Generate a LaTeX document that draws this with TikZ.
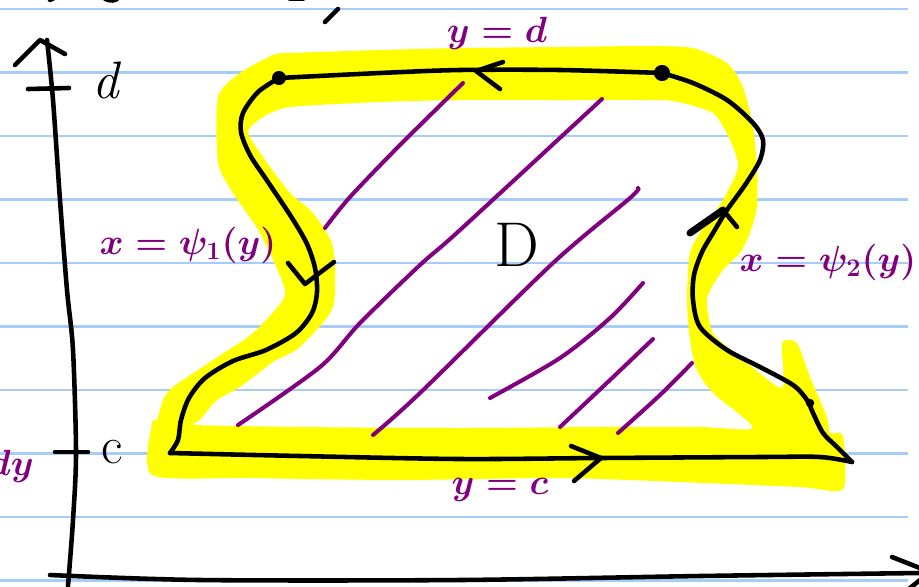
\documentclass[tikz,border=0pt]{standalone}
\usepackage{xcolor}
\usetikzlibrary{math}
\definecolor{myyellow}{RGB}{255,255,0}
\definecolor{mypurple}{RGB}{128,0,128}
\definecolor{myrule}{RGB}{166,204,247}

\tikzset{
  pen/.style={line width=2.6pt, line cap=round, line join=round},
  hatch/.style={color=mypurple, line width=2.3pt, line cap=round},
  lab/.style={color=mypurple, font=\fontsize{22}{26}\selectfont\boldmath},
  ink/.style={font=\fontsize{30}{34}\selectfont},
}

\begin{document}
\begin{tikzpicture}[x=0.02cm, y=-0.02cm]
\tikzmath{
\rulegap=63.5;
\rulestart=9;
}
\useasboundingbox (0,0) rectangle (919,586);
\clip (0,0) rectangle (919,586);
\fill[white] (0,0) rectangle (919,586);

%the ruled paper:
\foreach \n in {0,...,9}
  \draw[color=myrule, line width=1.2pt] (0,\rulestart+\n*\rulegap) -- (908,\rulestart+\n*\rulegap);

%the highlighter:
\fill[color=myyellow, even odd rule]
  plot[smooth cycle, tension=0.4] coordinates {(290,53) (380,50) (460,48) (560,47) (648,46) (693,48) (727,63) (743,87) (753,127) (757,170) (757,207) (750,233) (740,253) (723,270) (707,298) (713,333) (740,357) (782,388) (782,343) (797,343) (810,377) (827,417) (830,433) (843,436) (843,489) (800,487) (680,482) (560,478) (400,480) (250,478) (152,475) (152,423) (157,420) (163,400) (173,387) (213,360) (253,333) (283,300) (283,283) (260,233) (233,193) (218,163) (218,97) (240,73) (273,55)}
  plot[smooth cycle, tension=0.4] coordinates {(290,107) (380,102) (460,100) (560,100) (640,100) (673,101) (713,113) (730,140) (738,167) (723,200) (703,228) (690,253) (687,300) (690,340) (697,370) (713,393) (753,428) (700,427) (600,427) (460,428) (300,427) (197,425) (200,420) (217,400) (240,387) (273,362) (300,347) (333,307) (333,247) (313,213) (290,193) (263,157) (248,132) (263,117)};

%hatching of D:
\draw[hatch] plot[smooth] coordinates {(325,228) (350,197) (400,145) (463,83)};
\draw[hatch] plot[smooth] coordinates {(238,425) (320,367) (360,323) (420,265) (460,230) (602,99)};
\draw[hatch] plot[smooth] coordinates {(373,435) (420,393) (553,263) (630,198) (638,188)};
\draw[hatch] plot[smooth] coordinates {(490,398) (560,358) (610,318) (643,283)};
\draw[hatch] plot[smooth] coordinates {(560,427) (610,380) (653,339)};
\draw[hatch] plot[smooth] coordinates {(618,433) (660,395) (692,363)};

%axes:
\coordinate (ytop) at (47,40);
\coordinate (ybot) at (68,586);
\coordinate (xleft) at (50,575);
\coordinate (xright) at (919,573);
\draw[pen] plot[smooth] coordinates {(ybot) (73,520) (76,453) (73,350) (67,290) (60,200) (53,100) (ytop)};
\draw[pen] (15,65) -- (40,40) -- (65,54);
\draw[pen] plot[smooth] coordinates {(xleft) (200,580) (460,580) (700,576) (xright)};
\draw[pen] (892,557) -- (930,572) -- (900,596);
\draw[pen] (28,89) -- (69,88);
\draw[pen] (55,452) -- (88,452);
\node[ink, font=\fontsize{30}{34}\selectfont\itshape] (dtick) at (106,80) {d};
\node[ink] (ctick) at (112,452) {c};
\node[lab, anchor=east] (dylab) at (40,466) {$dy$};

%scraps of the line above:
\draw[pen] (338,9) -- (325,22);
\draw[pen] (50,0) -- (56,-3);
\draw[pen] (104,-2) .. controls (110,2) and (116,1) .. (119,-3);
\draw[pen] (290,-1) -- (303,-1);

%the boundary of D:
\coordinate (TL) at (279,78);
\coordinate (TR) at (662,73);
\coordinate (BL) at (170,453);
\coordinate (BR) at (852,462);
\draw[pen] plot[smooth, tension=0.5] coordinates {(TR) (560,70) (460,70) (380,73) (TL)};
\draw[pen] plot[smooth] coordinates {(TL) (258,92) (243,113) (241,132) (250,155) (268,182) (292,218) (307,244) (315,268) (317,292) (312,313) (296,333) (266,350) (233,361) (205,378) (189,398) (181,420) (178,440) (BL)};
\draw[pen] plot[smooth] coordinates {(BL) (300,456) (460,459) (600,458) (760,457) (820,457) (BR)};
\draw[pen] plot[smooth] coordinates {(BR) (837,447) (823,433) (813,413) (807,400) (793,385) (760,367) (727,350) (700,327) (693,300) (694,275) (702,252) (713,233) (727,210) (745,185) (760,160) (763,140) (753,123) (727,100) (693,83) (TR)};
\fill (TL) circle (4pt);
\fill (TR) circle (4.6pt);
\fill (810,403) circle (2.4pt);

%orientation:
\draw[pen] (503,62) -- (476,71) -- (500,89);
\draw[pen] (288,263) -- (305,284) -- (334,262);
\draw[pen] (571,446) -- (601,458) -- (574,481);
\draw[pen, line width=4pt] (690,233) -- (723,210);
\draw[pen] (723,210) -- (737,227);

%labels:
\node[ink, font=\fontsize{36}{40}\selectfont] (Dlab) at (517,245) {D};
\node[lab] (topl) at (497,33) {$y=d$};
\node[lab] (botl) at (500,490) {$y=c$};
\node[lab] (psione) at (188,245) {$x=\psi_1(y)$};
\node[lab] (psitwo) at (828,262) {$x=\psi_2(y)$};
\end{tikzpicture}
\end{document}
